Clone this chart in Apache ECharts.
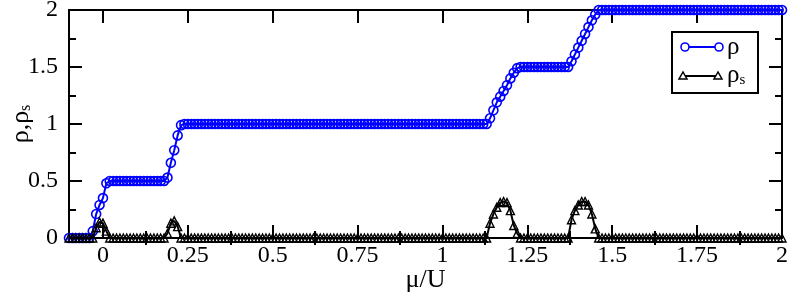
<!DOCTYPE html>
<html><head><meta charset="utf-8">
<script src="https://cdn.jsdelivr.net/npm/echarts@6/dist/echarts.min.js"></script>
<style>html,body{margin:0;padding:0;background:#fff}#c{width:789px;height:296px}</style>
</head><body><div id="c"></div>
<script>
// chemical potential grid (mu/U)
const mu = [
-0.10,-0.09,-0.08,-0.07,-0.06,-0.05,-0.04,-0.03,-0.02,-0.01,
0.00,0.01,0.02,0.03,0.04,0.05,0.06,0.07,0.08,0.09,
0.10,0.11,0.12,0.13,0.14,0.15,0.16,0.17,0.18,0.19,
0.20,0.21,0.22,0.23,0.24,0.25,0.26,0.27,0.28,0.29,
0.30,0.31,0.32,0.33,0.34,0.35,0.36,0.37,0.38,0.39,
0.40,0.41,0.42,0.43,0.44,0.45,0.46,0.47,0.48,0.49,
0.50,0.51,0.52,0.53,0.54,0.55,0.56,0.57,0.58,0.59,
0.60,0.61,0.62,0.63,0.64,0.65,0.66,0.67,0.68,0.69,
0.70,0.71,0.72,0.73,0.74,0.75,0.76,0.77,0.78,0.79,
0.80,0.81,0.82,0.83,0.84,0.85,0.86,0.87,0.88,0.89,
0.90,0.91,0.92,0.93,0.94,0.95,0.96,0.97,0.98,0.99,
1.00,1.01,1.02,1.03,1.04,1.05,1.06,1.07,1.08,1.09,
1.10,1.11,1.12,1.13,1.14,1.15,1.16,1.17,1.18,1.19,
1.20,1.21,1.22,1.23,1.24,1.25,1.26,1.27,1.28,1.29,
1.30,1.31,1.32,1.33,1.34,1.35,1.36,1.37,1.38,1.39,
1.40,1.41,1.42,1.43,1.44,1.45,1.46,1.47,1.48,1.49,
1.50,1.51,1.52,1.53,1.54,1.55,1.56,1.57,1.58,1.59,
1.60,1.61,1.62,1.63,1.64,1.65,1.66,1.67,1.68,1.69,
1.70,1.71,1.72,1.73,1.74,1.75,1.76,1.77,1.78,1.79,
1.80,1.81,1.82,1.83,1.84,1.85,1.86,1.87,1.88,1.89,
1.90,1.91,1.92,1.93,1.94,1.95,1.96,1.97,1.98,1.99,
2.00];
// density rho
const rho = [
0,0,0,0,0,0,0,0.06,0.21,0.29,
0.35,0.48,0.5,0.5,0.5,0.5,0.5,0.5,0.5,0.5,
0.5,0.5,0.5,0.5,0.5,0.5,0.5,0.5,0.5,0.53,
0.66,0.77,0.90,0.99,1,1,1,1,1,1,
1,1,1,1,1,1,1,1,1,1,
1,1,1,1,1,1,1,1,1,1,
1,1,1,1,1,1,1,1,1,1,
1,1,1,1,1,1,1,1,1,1,
1,1,1,1,1,1,1,1,1,1,
1,1,1,1,1,1,1,1,1,1,
1,1,1,1,1,1,1,1,1,1,
1,1,1,1,1,1,1,1,1,1,
1,1,1,1,1.05,1.12,1.19,1.24,1.29,1.34,
1.40,1.45,1.49,1.5,1.5,1.5,1.5,1.5,1.5,1.5,
1.5,1.5,1.5,1.5,1.5,1.5,1.5,1.5,1.55,1.61,
1.67,1.73,1.79,1.85,1.91,1.96,2,2,2,2,
2,2,2,2,2,2,2,2,2,2,
2,2,2,2,2,2,2,2,2,2,
2,2,2,2,2,2,2,2,2,2,
2,2,2,2,2,2,2,2,2,2,
2,2,2,2,2,2,2,2,2,2,
2];
// superfluid density rho_s
const rhoS = [
0,0,0,0,0,0,0,0,0.09,0.14,
0.13,0.06,0,0,0,0,0,0,0,0,
0,0,0,0,0,0,0,0,0,0.04,
0.13,0.15,0.10,0,0,0,0,0,0,0,
0,0,0,0,0,0,0,0,0,0,
0,0,0,0,0,0,0,0,0,0,
0,0,0,0,0,0,0,0,0,0,
0,0,0,0,0,0,0,0,0,0,
0,0,0,0,0,0,0,0,0,0,
0,0,0,0,0,0,0,0,0,0,
0,0,0,0,0,0,0,0,0,0,
0,0,0,0,0,0,0,0,0,0,
0,0,0,0,0.13,0.21,0.27,0.31,0.32,0.31,
0.24,0.11,0.04,0,0,0,0,0,0,0,
0,0,0,0,0,0,0,0,0.16,0.24,
0.29,0.32,0.32,0.29,0.21,0.08,0,0,0,0,
0,0,0,0,0,0,0,0,0,0,
0,0,0,0,0,0,0,0,0,0,
0,0,0,0,0,0,0,0,0,0,
0,0,0,0,0,0,0,0,0,0,
0,0,0,0,0,0,0,0,0,0,
0];
const xMajorTicks = [0,0.25,0.5,0.75,1,1.25,1.5,1.75,2];
const xMinorTicks = [0.125,0.375,0.625,0.875,1.125,1.375,1.625,1.875];
const yTickLabels = ['0','0.5','1','1.5','2'];
const xTitle = 'μ/U';
const yTitle = '{a|ρ,ρ}{s|s}';

const FONT = 'Liberation Serif';
const BLUE = '#0000ff';
const rhoData = mu.map((m,i)=>[m,rho[i]]);
const rhoSData = mu.map((m,i)=>[m,rhoS[i]]);

function xAxisDef(pos, ticks, len, labels, extra){
  return Object.assign({
    type:'value', min:-0.1, max:2, position:pos,
    axisLine:{show:true, onZero:false, lineStyle:{color:'#000', width:2}},
    axisTick:{show:true, inside:true, length:len, customValues:ticks, lineStyle:{color:'#000', width:2}},
    axisLabel:{show:labels, customValues:ticks, margin:6, color:'#000', fontFamily:FONT, fontSize:24},
    splitLine:{show:false}
  }, extra||{});
}
function yAxisDef(pos, labels, extra){
  return Object.assign({
    type:'value', min:0, max:2, interval:0.5, position:pos,
    axisLine:{show:true, onZero:false, lineStyle:{color:'#000', width:2}},
    axisTick:{show:true, inside:true, length:13, lineStyle:{color:'#000', width:2}},
    minorTick:{show:true, splitNumber:2, length:7, lineStyle:{color:'#000', width:2}},
    axisLabel:{show:labels, margin:11, color:'#000', fontFamily:FONT, fontSize:24,
      formatter:(v)=>yTickLabels[Math.round(v/0.5)]},
    splitLine:{show:false}
  }, extra||{});
}

const chart = echarts.init(document.getElementById('c'), null, {renderer:'canvas'});
chart.setOption({
  animation:false,
  backgroundColor:'#fff',
  grid:{left:69, right:7, top:10, bottom:58, containLabel:false, outerBoundsMode:'none'},
  xAxis:[
    xAxisDef('bottom', xMajorTicks, 13, true, {name:xTitle, nameLocation:'middle', nameGap:29, nameMoveOverlap:false,
      nameTextStyle:{color:'#000', fontFamily:FONT, fontSize:26}}),
    xAxisDef('bottom', xMinorTicks, 7, false, {axisLine:{show:false}}),
    xAxisDef('top', xMajorTicks, 13, false),
    xAxisDef('top', xMinorTicks, 7, false, {axisLine:{show:false}})
  ],
  yAxis:[
    yAxisDef('left', true, {name:yTitle, nameLocation:'middle', nameGap:35, nameRotate:90, nameMoveOverlap:false,
      nameTextStyle:{color:'#000', fontFamily:FONT, fontSize:26,
        rich:{a:{fontFamily:FONT, fontSize:26, color:'#000'},
              s:{fontFamily:FONT, fontSize:16, color:'#000', verticalAlign:'bottom', lineHeight:16}}}}),
    yAxisDef('right', false)
  ],
  series:[
    {name:'ρ', type:'line', data:rhoData, xAxisIndex:0, yAxisIndex:0,
      symbol:'circle', symbolSize:9, showAllSymbol:true, clip:false,
      lineStyle:{color:BLUE, width:2},
      itemStyle:{color:'rgba(0,0,0,0)', borderColor:BLUE, borderWidth:1.6}, z:2},
    {name:'ρs', type:'line', data:rhoSData, xAxisIndex:0, yAxisIndex:0,
      symbol:'triangle', symbolSize:8, showAllSymbol:true, clip:false,
      lineStyle:{color:'#000', width:2},
      itemStyle:{color:'rgba(0,0,0,0)', borderColor:'#000', borderWidth:1.4}, z:3}
  ],
  graphic:[
    {type:'rect', shape:{x:672,y:32,width:86,height:61}, style:{fill:'#fff', stroke:'#000', lineWidth:2}, z:10},
    {type:'line', shape:{x1:685,y1:47,x2:719,y2:47}, style:{stroke:BLUE, lineWidth:2}, z:11},
    {type:'circle', shape:{cx:685,cy:47,r:4}, style:{fill:'#fff', stroke:BLUE, lineWidth:1.6}, z:12},
    {type:'circle', shape:{cx:719,cy:47,r:4}, style:{fill:'#fff', stroke:BLUE, lineWidth:1.6}, z:12},
    {type:'text', x:727, y:47, style:{text:'ρ', fill:'#000', font:'25px "Liberation Serif"', verticalAlign:'middle'}, z:12},
    {type:'line', shape:{x1:683,y1:76,x2:718,y2:76}, style:{stroke:'#000', lineWidth:2}, z:11},
    {type:'polygon', shape:{points:[[683,72],[679,79],[687,79]]}, style:{fill:'#fff', stroke:'#000', lineWidth:1.5}, z:12},
    {type:'polygon', shape:{points:[[718,72],[714,79],[722,79]]}, style:{fill:'#fff', stroke:'#000', lineWidth:1.5}, z:12},
    {type:'text', x:727, y:75, style:{text:'{a|ρ}{s|s}', fill:'#000', verticalAlign:'middle',
      rich:{a:{fontFamily:FONT, fontSize:25, fill:'#000'}, s:{fontFamily:FONT, fontSize:15, fill:'#000', verticalAlign:'bottom', lineHeight:15}}}, z:12}
  ]
});
</script>
</body></html>
